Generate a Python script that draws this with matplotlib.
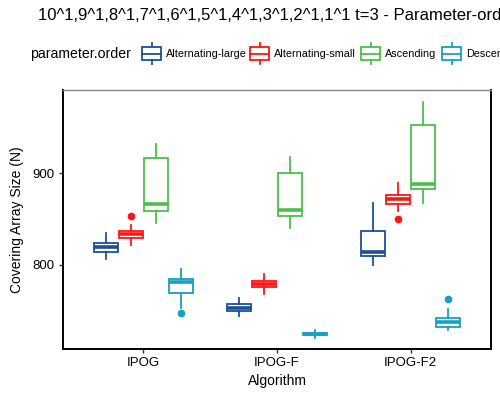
#!/usr/bin/env python3
"""Covering array size by algorithm and parameter order - boxplot"""

import matplotlib
matplotlib.use('Agg')
import matplotlib.pyplot as plt
from matplotlib.patches import Rectangle

plt.rcParams['font.family'] = ['Liberation Sans', 'DejaVu Sans']

TITLE = '10^1,9^1,8^1,7^1,6^1,5^1,4^1,3^1,2^1,1^1 t=3 - Parameter-order'
algorithms = ['IPOG', 'IPOG-F', 'IPOG-F2']
orders = ['Alternating-large', 'Alternating-small', 'Ascending', 'Descending']
colors = ['#1C4F96', '#FF1414', '#4CBF4A', '#17A0C0']

# five-number summaries, per order, per algorithm
whislo = {
    'Alternating-large': [807, 744, 800],
    'Alternating-small': [822, 768, 859],
    'Ascending':         [846, 840, 868],
    'Descending':        [753, 721, 729],
}
q1 = {
    'Alternating-large': [814, 750, 810],
    'Alternating-small': [829, 776, 866],
    'Ascending':         [859, 853, 883],
    'Descending':        [770, 724, 732],
}
med = {
    'Alternating-large': [820, 753, 814],
    'Alternating-small': [834, 779, 872],
    'Ascending':         [866, 860, 888],
    'Descending':        [781, 725, 738],
}
q3 = {
    'Alternating-large': [824, 757, 837],
    'Alternating-small': [837, 782, 876],
    'Ascending':         [917, 900, 952],
    'Descending':        [785, 726, 742],
}
whishi = {
    'Alternating-large': [835, 764, 867],
    'Alternating-small': [844, 790, 889],
    'Ascending':         [932, 918, 977],
    'Descending':        [796, 729, 752],
}
outliers = {
    'Alternating-large': [[], [], []],
    'Alternating-small': [[853], [], [850]],
    'Ascending':         [[], [], []],
    'Descending':        [[748], [], [763]],
}

W, H = 500, 400
fig = plt.figure(figsize=(W / 100, H / 100), dpi=100)
ax = fig.add_axes([63 / W, 1 - 349 / H, (491 - 63) / W, (349 - 90) / H])

dodge = 0.75 / len(orders)
for k, (order, color) in enumerate(zip(orders, colors)):
    offset = (k - (len(orders) - 1) / 2) * dodge
    stats = []
    for i in range(len(algorithms)):
        stats.append({'whislo': whislo[order][i], 'q1': q1[order][i], 'med': med[order][i],
                      'q3': q3[order][i], 'whishi': whishi[order][i],
                      'fliers': outliers[order][i]})
    ax.bxp(stats, positions=[i + 1 + offset for i in range(len(algorithms))],
           widths=0.18, showcaps=False, patch_artist=True,
           boxprops=dict(facecolor='white', edgecolor=color, linewidth=1.3),
           whiskerprops=dict(color=color, linewidth=1.3),
           medianprops=dict(color=color, linewidth=2.6, solid_capstyle='butt'),
           flierprops=dict(marker='o', markerfacecolor=color, markeredgecolor=color,
                           markersize=4.5))

ax.set_xlim(0.4, 3.6)
ax.set_ylim(708.5, 990.5)
ax.set_xticks(range(1, len(algorithms) + 1))
ax.set_xticklabels(algorithms, fontsize=9.5)
ax.set_yticks([800, 900])
ax.set_yticklabels(['800', '900'], fontsize=9.5)
ax.tick_params(length=3, width=1, colors='#333333', labelcolor='black', pad=3)
ax.set_xlabel('Algorithm', fontsize=10, labelpad=3)
ax.set_ylabel('Covering Array Size (N)', fontsize=10, labelpad=6)
for side in ['left', 'bottom', 'right']:
    ax.spines[side].set_linewidth(1.4)
    ax.spines[side].set_color('black')
ax.spines['top'].set_linewidth(1.0)
ax.spines['top'].set_color('#888888')

# title (overflows the right edge like in the original)
fig.text(37.5 / W, 1 - 16 / H, TITLE, fontsize=12, ha='left', va='center')

# legend drawn in pixel coordinates
lg = fig.add_axes([0, 0, 1, 1], facecolor='none')
lg.set_xlim(0, W)
lg.set_ylim(H, 0)
lg.axis('off')
lg.text(30, 54, 'parameter.order', fontsize=10.2, ha='left', va='center')
key_x = [142, 250, 361, 442]
for x0, order, color in zip(key_x, orders, colors):
    lg.add_patch(Rectangle((x0, 47), 19, 13, facecolor='white', edgecolor=color, linewidth=1.3))
    lg.plot([x0, x0 + 19], [53.5, 53.5], color=color, linewidth=1.3)
    lg.plot([x0 + 9.5, x0 + 9.5], [43, 47], color=color, linewidth=1.3)
    lg.plot([x0 + 9.5, x0 + 9.5], [60, 64], color=color, linewidth=1.3)
    lg.text(x0 + 24, 54, order, fontsize=7.8, ha='left', va='center')

fig.savefig('out.png', dpi=100)
plt.close(fig)
